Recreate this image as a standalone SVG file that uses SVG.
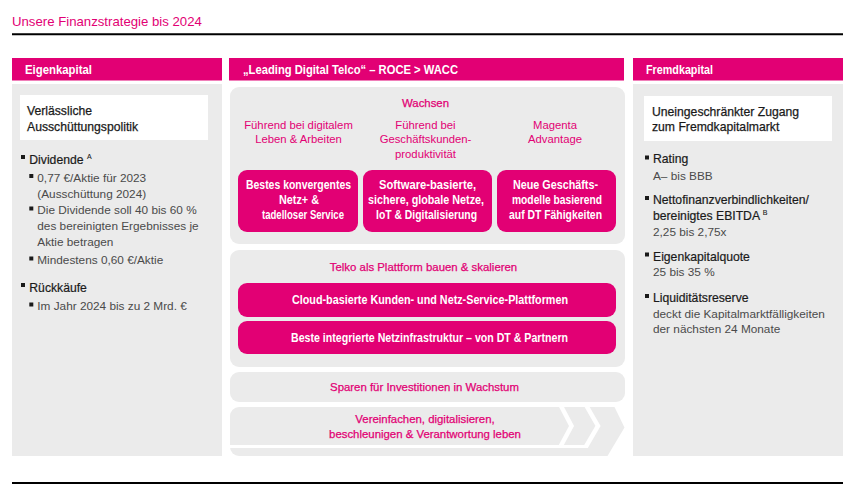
<svg xmlns="http://www.w3.org/2000/svg" width="861" height="498" viewBox="0 0 861 498">
<style>
text{font-family:"Liberation Sans",Arial,sans-serif}
.title{font-size:13.2px;fill:#E20074}
.hdr{font-size:12.2px;font-weight:bold;fill:#fff}
.hbar{fill:#E20074}
.panel{fill:#EBEBEB}
.wbox{fill:#fff}
.wt{font-size:12.2px;fill:#1a1a1a;stroke:#1a1a1a;stroke-width:0.25}
.h1{font-size:12.2px;fill:#1a1a1a;stroke:#1a1a1a;stroke-width:0.2}
.body{font-size:11.8px;fill:#4a4a4a}
.sup{font-size:7px}
.bul{fill:#1a1a1a}
.mg{font-size:11.4px;fill:#E20074;text-anchor:middle;stroke:#E20074;stroke-width:0.25}
.sub{font-size:11.3px;fill:#E20074;text-anchor:middle}
.box{fill:#E20074}
.bt{font-size:12.2px;font-weight:bold;fill:#fff;text-anchor:middle}
.rule{stroke:#000;stroke-width:2}
</style>

<text class="title" x="12" y="26">Unsere Finanzstrategie bis 2024</text>
<line class="rule" x1="12" y1="34.3" x2="843" y2="34.3"/>
<line class="rule" x1="12" y1="483" x2="843" y2="483"/>

<g id="eigenkapital">
  <rect class="hbar" x="12" y="58" width="210" height="22.5"/>
  <text class="hdr" x="25" y="73.8" textLength="67" lengthAdjust="spacingAndGlyphs">Eigenkapital</text>
  <rect class="panel" x="12" y="84" width="210" height="372"/>
  <rect class="wbox" x="20" y="95" width="188" height="45"/>
  <text class="wt" x="27" y="115">Verlässliche</text>
  <text class="wt" x="27" y="131">Ausschüttungspolitik</text>
  <rect class="bul" x="21" y="155" width="4" height="4"/>
  <text class="h1" x="29.3" y="164">Dividende <tspan class="sup" dy="-5" stroke-width="0.1">A</tspan></text>
  <rect class="bul" x="29.3" y="174" width="4" height="4"/>
  <text class="body" x="37.3" y="181.7">0,77 €/Aktie für 2023</text>
  <text class="body" x="37.3" y="197.5">(Ausschüttung 2024)</text>
  <rect class="bul" x="29.3" y="206.5" width="4" height="4"/>
  <text class="body" x="37.3" y="214">Die Dividende soll 40 bis 60 %</text>
  <text class="body" x="37.3" y="230">des bereinigten Ergebnisses je</text>
  <text class="body" x="37.3" y="246">Aktie betragen</text>
  <rect class="bul" x="29.3" y="256.5" width="4" height="4"/>
  <text class="body" x="37.3" y="264">Mindestens 0,60 €/Aktie</text>
  <rect class="bul" x="21" y="283" width="4" height="4"/>
  <text class="h1" x="29.3" y="292">Rückkäufe</text>
  <rect class="bul" x="29.3" y="302.5" width="4" height="4"/>
  <text class="body" x="37.3" y="310">Im Jahr 2024 bis zu 2 Mrd. €</text>
</g>

<g id="leading-digital-telco">
  <rect class="hbar" x="229" y="58" width="395" height="22.5"/>
  <text class="hdr" x="243" y="73.8" textLength="215" lengthAdjust="spacingAndGlyphs">„Leading Digital Telco“ – ROCE &gt; WACC</text>
</g>

<g id="wachsen">
  <rect class="panel" x="230" y="87" width="395" height="157" rx="9"/>
  <text class="mg" x="425.5" y="106.5">Wachsen</text>
  <text class="sub" x="298.5" y="129">Führend bei digitalem</text>
  <text class="sub" x="298.5" y="143">Leben &amp; Arbeiten</text>
  <text class="sub" x="425.5" y="129">Führend bei</text>
  <text class="sub" x="425.5" y="143">Geschäftskunden-</text>
  <text class="sub" x="425.5" y="157.5">produktivität</text>
  <text class="sub" x="555" y="129">Magenta</text>
  <text class="sub" x="555" y="143">Advantage</text>
</g>

<g id="box-netz">
  <rect class="box" x="238" y="170" width="120" height="62" rx="9"/>
  <text class="bt" x="298.5" y="189" textLength="105" lengthAdjust="spacingAndGlyphs">Bestes konvergentes</text>
  <text class="bt" x="299" y="204" textLength="40" lengthAdjust="spacingAndGlyphs">Netz+ &amp;</text>
  <text class="bt" x="303" y="218.5" textLength="82" lengthAdjust="spacingAndGlyphs">tadelloser Service</text>
</g>

<g id="box-software">
  <rect class="box" x="363" y="170" width="129" height="62" rx="9"/>
  <text class="bt" x="427.5" y="189" textLength="97" lengthAdjust="spacingAndGlyphs">Software-basierte,</text>
  <text class="bt" x="426" y="204" textLength="116" lengthAdjust="spacingAndGlyphs">sichere, globale Netze,</text>
  <text class="bt" x="426.5" y="218.5" textLength="101" lengthAdjust="spacingAndGlyphs">IoT &amp; Digitalisierung</text>
</g>

<g id="box-geschaeftsmodelle">
  <rect class="box" x="497" y="170" width="119" height="62" rx="9"/>
  <text class="bt" x="555.5" y="189" textLength="85" lengthAdjust="spacingAndGlyphs">Neue Geschäfts-</text>
  <text class="bt" x="557" y="204" textLength="90" lengthAdjust="spacingAndGlyphs">modelle basierend</text>
  <text class="bt" x="555.5" y="218.5" textLength="93" lengthAdjust="spacingAndGlyphs">auf DT Fähigkeiten</text>
</g>

<g id="telko-plattform">
  <rect class="panel" x="230" y="250" width="395" height="117" rx="9"/>
  <text class="mg" x="423.5" y="271">Telko als Plattform bauen &amp; skalieren</text>
</g>

<g id="box-cloud">
  <rect class="box" x="238" y="283" width="378" height="34" rx="9"/>
  <text class="bt" x="430" y="304" textLength="276" lengthAdjust="spacingAndGlyphs">Cloud-basierte Kunden- und Netz-Service-Plattformen</text>
</g>

<g id="box-netzinfrastruktur">
  <rect class="box" x="238" y="321" width="378" height="33" rx="9"/>
  <text class="bt" x="429.5" y="342" textLength="277" lengthAdjust="spacingAndGlyphs">Beste integrierte Netzinfrastruktur – von DT &amp; Partnern</text>
</g>

<g id="sparen">
  <rect class="panel" x="230" y="372" width="395" height="30" rx="9"/>
  <text class="mg" x="424.5" y="391">Sparen für Investitionen in Wachstum</text>
</g>

<g id="vereinfachen">
  <path class="panel" d="M239,407 H614.5 L624.5,427.5 L607.5,456 H239 A9,9 0 0 1 230,447 V416 A9,9 0 0 1 239,407 Z"/>
  <path d="M560.5,405 L571.5,426 L560.5,446.5 M586,405 L598,426 L586,446.5" fill="none" stroke="#fff" stroke-width="4.5"/>
  <line x1="228" y1="446.5" x2="588" y2="446.5" stroke="#fff" stroke-width="3"/>
  <text class="mg" x="425" y="422.5">Vereinfachen, digitalisieren,</text>
  <text class="mg" x="425" y="438">beschleunigen &amp; Verantwortung leben</text>
</g>

<g id="fremdkapital">
  <rect class="hbar" x="633" y="58" width="210" height="22.5"/>
  <text class="hdr" x="646" y="73.8" textLength="67" lengthAdjust="spacingAndGlyphs">Fremdkapital</text>
  <rect class="panel" x="633" y="84" width="210" height="372"/>
  <rect class="wbox" x="644" y="96" width="188" height="45"/>
  <text class="wt" x="652" y="115.5">Uneingeschränkter Zugang</text>
  <text class="wt" x="652" y="131">zum Fremdkapitalmarkt</text>
  <rect class="bul" x="645" y="155.5" width="4" height="4"/>
  <text class="h1" x="653" y="163">Rating</text>
  <text class="body" x="653" y="180">A– bis BBB</text>
  <rect class="bul" x="645" y="196" width="4" height="4"/>
  <text class="h1" x="653" y="204">Nettofinanzverbindlichkeiten/</text>
  <text class="h1" x="653" y="220">bereinigtes EBITDA <tspan class="sup" dy="-5" stroke-width="0.1">B</tspan></text>
  <text class="body" x="653" y="236">2,25 bis 2,75x</text>
  <rect class="bul" x="645" y="252.5" width="4" height="4"/>
  <text class="h1" x="653" y="260.5">Eigenkapitalquote</text>
  <text class="body" x="653" y="276">25 bis 35 %</text>
  <rect class="bul" x="645" y="294" width="4" height="4"/>
  <text class="h1" x="653" y="302">Liquiditätsreserve</text>
  <text class="body" x="653" y="317.5">deckt die Kapitalmarktfälligkeiten</text>
  <text class="body" x="653" y="333">der nächsten 24 Monate</text>
</g>
</svg>
